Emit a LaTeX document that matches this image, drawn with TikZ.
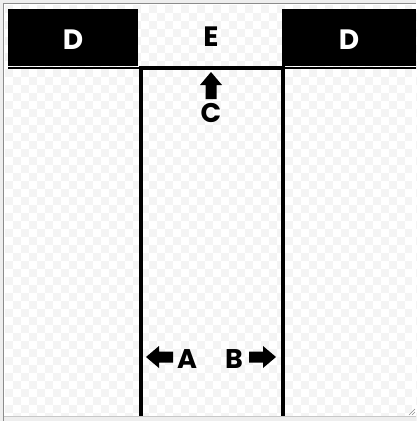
\documentclass[tikz,border=0pt]{standalone}
\usepackage{fontspec}
\newfontfamily\lblfont{Poppins}
\usetikzlibrary{calc}
\definecolor{framegray}{RGB}{140,140,140}
\definecolor{bggray}{RGB}{238,238,238}
\definecolor{checkgray}{RGB}{244,244,244}
\definecolor{edgegray}{RGB}{200,200,200}

% block arrow pointing right, tail at the origin
\newcommand{\blockarrow}{\fill (0,-5.5) -- (14,-5.5) -- (14,-11) -- (27,0) -- (14,11) -- (14,5.5) -- (0,5.5) -- cycle;}

\begin{document}
\begin{tikzpicture}[x=1pt, y=-1pt,
  lbl/.style={font={\lblfont\bfseries\fontsize{28}{30}\selectfont}, inner sep=0pt},
  smalllbl/.style={font={\lblfont\bfseries\fontsize{27}{30}\selectfont}, inner sep=0pt},
  wall/.style={line width=4.5pt, black}]
  \useasboundingbox (0,0) rectangle (416,421);

  % ===== 背景 =====
  \fill[bggray] (0,0) rectangle (416,421);
  \fill[white] (4,4) rectangle (416,416);
  \foreach \r in {0,...,51}{
    \pgfmathtruncatemacro{\off}{mod(\r,2)}
    \foreach \c in {0,2,...,50}{
      \fill[checkgray] ({5+8*(\c+\off)},{5+8*\r}) rectangle ++(8,8);
    }
  }
  \fill[white] (412,4) rectangle (416,416);
  \fill[bggray] (0,416) rectangle (416,421);

  % 外框
  \draw[framegray, line width=1.2pt] (3.5,421) -- (3.5,3.5) -- (416,3.5);
  \draw[edgegray, line width=0.8pt] (3.5,416) -- (416,416);

  % 右下角把手
  \draw[framegray, line width=0.6pt] (415,409) -- (409,415);
  \draw[framegray, line width=0.6pt] (415,412) -- (412,415);

  % ===== 顶部 =====
  \fill[black] (8,9) rectangle (138,66);
  \fill[black] (282,9) rectangle (416,66);
  \draw[black, line width=2pt] (8,67.5) -- (416,67.5);
  \draw[black, line width=4pt] (141,68) -- (283,68);

  \node[lbl, white] (dl) at (73,40) {D};
  \node[lbl, white] (dr) at (349,40) {D};
  \node[lbl] (e) at (211,37) {E};

  % ===== 通道 =====
  \draw[wall] (141,66) -- (141,416);
  \draw[wall] (283,66) -- (283,416);

  % 箭头
  \begin{scope}[shift={(211,99)}, rotate=90]
    \blockarrow
  \end{scope}
  \node[smalllbl] (c) at (211,113) {C};

  \begin{scope}[shift={(173,357)}, rotate=180]
    \blockarrow
  \end{scope}
  \node[smalllbl] (a) at (187,359) {A};

  \begin{scope}[shift={(249,357)}]
    \blockarrow
  \end{scope}
  \node[smalllbl] (b) at (234,359) {B};
\end{tikzpicture}
\end{document}
